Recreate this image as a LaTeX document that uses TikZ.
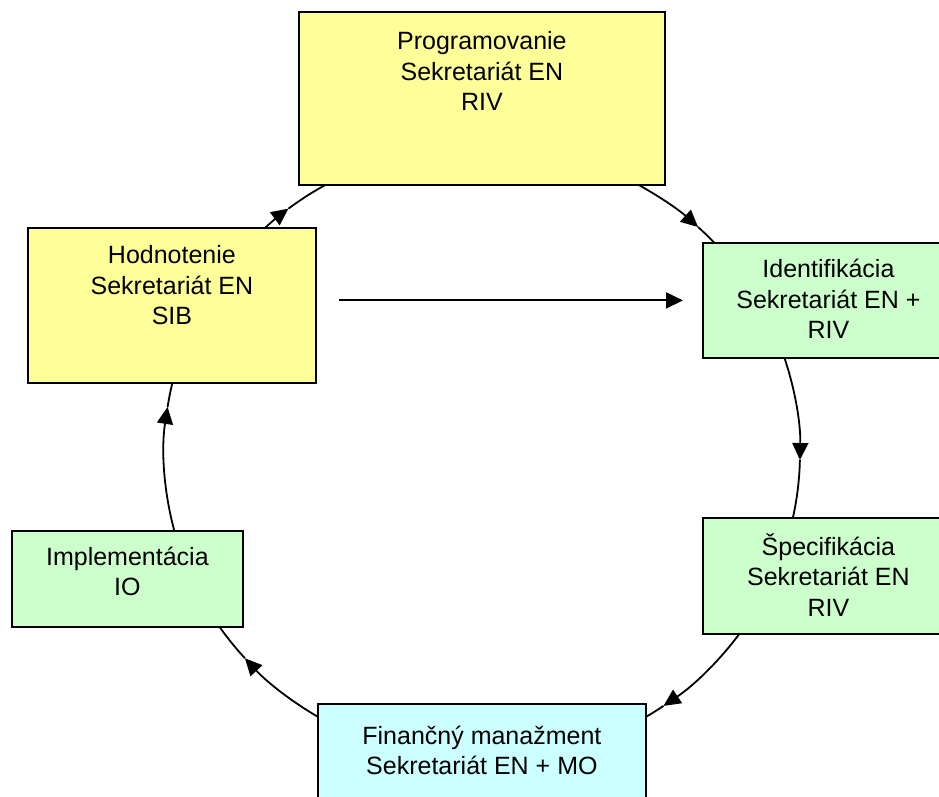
\documentclass[tikz,border=0pt]{standalone}
\usepackage{fontspec}
\setmainfont{Liberation Sans}
\usetikzlibrary{arrows.meta}
\definecolor{boxyellow}{HTML}{FFFF99}
\definecolor{boxgreen}{HTML}{CCFFCC}
\definecolor{boxcyan}{HTML}{CCFFFF}
\newcommand\stacklines[1]{\begin{tabular}[t]{@{}c@{}}#1\end{tabular}}
% #1 start angle, #2 tip angle, #3 end angle (image angles, clockwise)
\newcommand\cyclearc[3]{%
  \draw[flow] (ring) ++(-#1:318 and 308) arc[start angle=-#1, end angle=-#2, x radius=318, y radius=308];
  \draw[plainline] (ring) ++(-#2:318 and 308) arc[start angle=-#2, end angle=-#3, x radius=318, y radius=308];}
\begin{document}
\begin{tikzpicture}[x=1pt,y=1pt,
  box/.style={draw=black, line width=1.8pt, rectangle, inner sep=0pt, anchor=north west},
  txt/.style={inner sep=0pt, anchor=base, font=\fontsize{25}{30.5}\selectfont},
  flow/.style={draw=black, line width=1.8pt, -{Triangle[length=17pt,width=16pt]}},
  plainline/.style={draw=black, line width=1.8pt}]
\useasboundingbox (0,0) rectangle (939,796);
\clip (0,0) rectangle (939,796);
\coordinate (ring) at (482,343);
% cycle connectors
\cyclearc{226.3}{232.5}{241.8}
\cyclearc{298.7}{312.8}{317.3}
\cyclearc{340.8}{361.3}{373.0}
\cyclearc{35.0}{55.2}{60.1}
\cyclearc{120.0}{138.2}{146.6}
\cyclearc{164.6}{188.6}{194.3}
% boxes
\node[box, fill=boxyellow, minimum width=366pt, minimum height=173pt] (prog) at (298,785) {};
\node[box, fill=boxyellow, minimum width=288pt, minimum height=155pt] (hod) at (27,569) {};
\node[box, fill=boxgreen, minimum width=251pt, minimum height=115pt] (ident) at (702,554) {};
\node[box, fill=boxgreen, minimum width=251pt, minimum height=116pt] (spec) at (702,279) {};
\node[box, fill=boxcyan, minimum width=328pt, minimum height=127pt] (fin) at (317,93) {};
\node[box, fill=boxgreen, minimum width=231pt, minimum height=96pt] (impl) at (11,266) {};
% texts
\node[txt] (progtext) at ([yshift=-39pt]prog.north) {\stacklines{Programovanie\\Sekretariát EN\\RIV}};
\node[txt] (hodtext) at ([yshift=-37pt]hod.north) {\stacklines{Hodnotenie\\Sekretariát EN\\SIB}};
\node[txt] (identtext) at ([yshift=-36pt]ident.north) {\stacklines{Identifikácia\\Sekretariát EN +\\RIV}};
\node[txt] (spectext) at ([yshift=-38pt]spec.north) {\stacklines{Špecifikácia\\Sekretariát EN\\RIV}};
\node[txt] (fintext) at ([yshift=-41pt]fin.north) {\stacklines{Finančný manažment\\Sekretariát EN + MO}};
\node[txt] (impltext) at ([yshift=-35pt]impl.north) {\stacklines{Implementácia\\IO}};
% straight connector
\draw[flow] ([xshift=22pt]hod.east |- ident.west) -- ([xshift=-19pt]ident.west);
\end{tikzpicture}
\end{document}
